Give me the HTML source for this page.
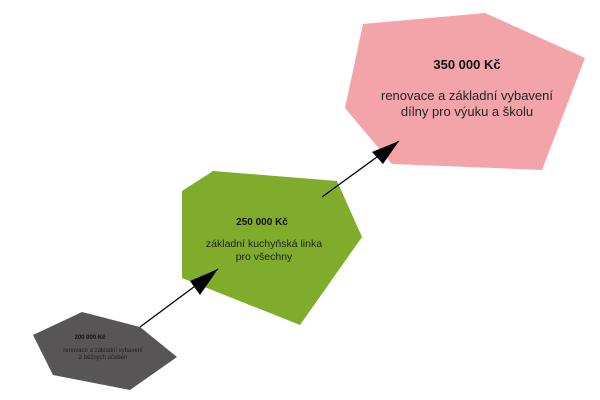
<!DOCTYPE html>
<html><head><meta charset="utf-8"><style>
html,body{margin:0;padding:0;background:#fff;width:600px;height:400px;overflow:hidden}
svg text{font-family:"Liberation Sans",sans-serif;text-anchor:middle}
</style></head><body>
<svg width="600" height="400" viewBox="0 0 600 400">
<defs>
<marker id="a" markerWidth="10" markerHeight="8" refX="9" refY="4" orient="auto" markerUnits="userSpaceOnUse" viewBox="0 0 10 8"><path d="M0,0 L10,4 L0,8 z" fill="#000"/></marker>
</defs>
<polygon points="363,24 485,13 585,58 542,170 392,164 345,108" fill="#f2a4a8"/>
<polygon points="182,191 213,171 337,181 362,237 300,325 182,278" fill="#7fac2a"/>
<polygon points="33,335 82,312 140,327 177,357 130,390 53,375" fill="#575555"/>
<line x1="140" y1="327" x2="218" y2="269" stroke="#000" stroke-width="1.3"/>
<polygon points="218,269 190,281 200,295" fill="#000"/>
<line x1="322" y1="197" x2="399" y2="141" stroke="#000" stroke-width="1.3"/>
<polygon points="399,141 372,152 383,164" fill="#000"/>
<text x="467" y="69" font-size="13" font-weight="bold" fill="#111">350 000 Kč</text>
<text x="467" y="100" font-size="13" fill="#222">renovace a základní vybavení</text>
<text x="467" y="116" font-size="13" fill="#222">dílny pro výuku a školu</text>
<text x="262" y="225" font-size="10" font-weight="bold" fill="#111">250 000 Kč</text>
<text x="264" y="247" font-size="10.5" fill="#222">základní kuchyňská linka</text>
<text x="264" y="260" font-size="10.5" fill="#222">pro všechny</text>
<text x="90" y="339" font-size="6" font-weight="bold" fill="#111">200 000 Kč</text>
<text x="103" y="352" font-size="6" fill="#222">renovace a základní vybavení</text>
<text x="103" y="359" font-size="6" fill="#222">2 běžných učeben</text>
</svg>
</body></html>
